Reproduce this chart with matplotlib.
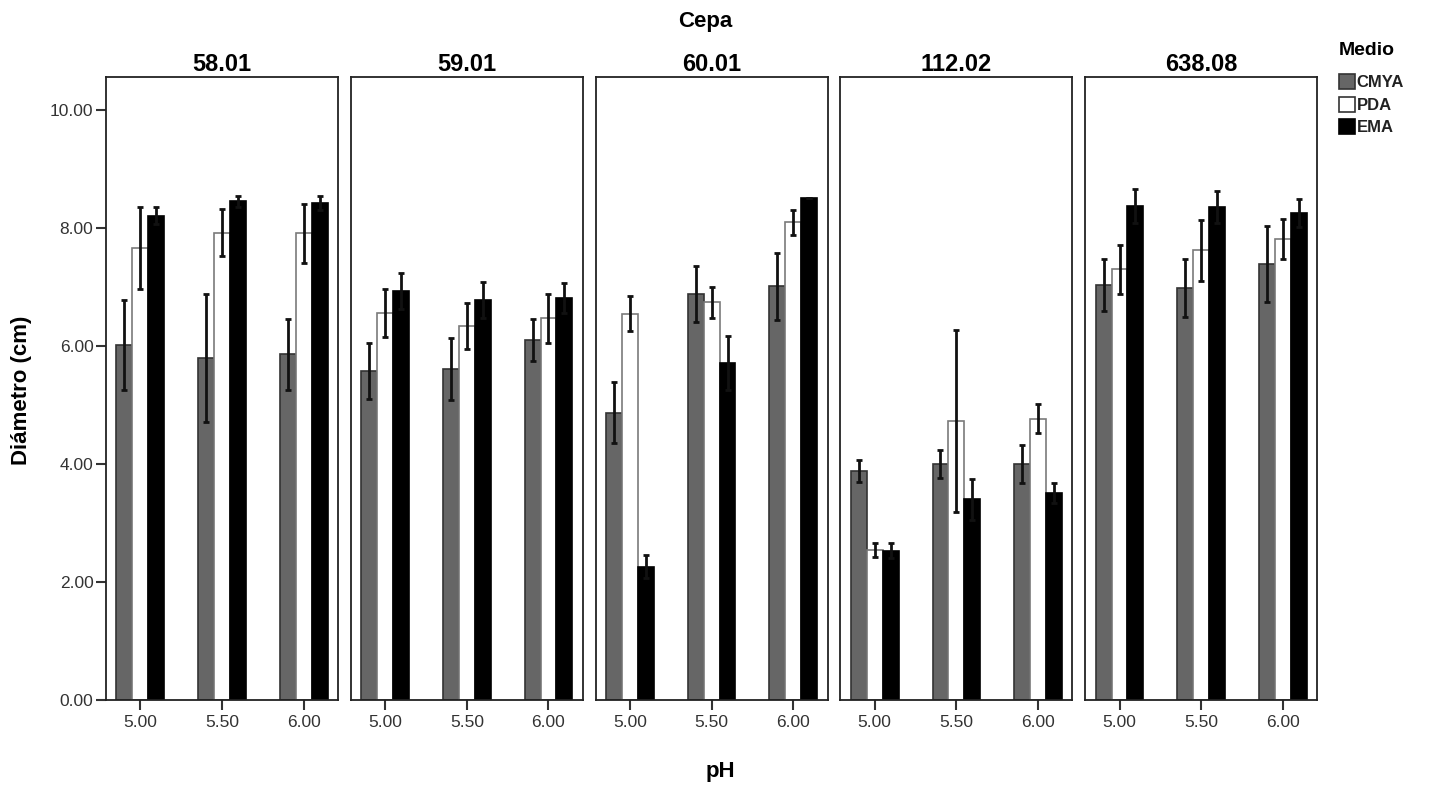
import matplotlib
matplotlib.use("Agg")
import matplotlib.pyplot as plt
from matplotlib.patches import Patch
import numpy as np

plt.rcParams['font.family'] = ['Liberation Sans', 'DejaVu Sans']

cepas = ["58.01", "59.01", "60.01", "112.02", "638.08"]
ph_labels = ["5.00", "5.50", "6.00"]
medios = ["CMYA", "PDA", "EMA"]

# means per cepa: rows = pH (5.00, 5.50, 6.00)
cmya_mean = [[6.02, 5.80, 5.86], [5.58, 5.61, 6.10], [4.87, 6.88, 7.01], [3.88, 4.00, 4.00], [7.03, 6.99, 7.39]]
pda_mean = [[7.66, 7.92, 7.91], [6.56, 6.34, 6.47], [6.55, 6.74, 8.10], [2.54, 4.73, 4.77], [7.30, 7.62, 7.81]]
ema_mean = [[8.21, 8.45, 8.43], [6.93, 6.78, 6.81], [2.26, 5.71, 8.51], [2.53, 3.40, 3.51], [8.38, 8.36, 8.25]]

cmya_err = [[0.76, 1.08, 0.60], [0.47, 0.52, 0.35], [0.52, 0.48, 0.57], [0.18, 0.24, 0.33], [0.44, 0.49, 0.65]]
pda_err = [[0.70, 0.40, 0.50], [0.40, 0.39, 0.42], [0.30, 0.26, 0.21], [0.12, 1.55, 0.25], [0.42, 0.51, 0.34]]
ema_err = [[0.15, 0.09, 0.12], [0.30, 0.30, 0.25], [0.20, 0.46, 0.00], [0.13, 0.35, 0.17], [0.29, 0.27, 0.24]]

W, H = 1434, 786
fig = plt.figure(figsize=(W / 100, H / 100), dpi=100)

face = ["#666666", "#ffffff", "#000000"]
edge = ["#333333", "#7a7a7a", "#000000"]
means = [cmya_mean, pda_mean, ema_mean]
errs = [cmya_err, pda_err, ema_err]

left0, step, width = 106, 244.8, 232
top, bottom = 77, 700
bw = 0.195
x = np.arange(len(ph_labels))

for i, cepa in enumerate(cepas):
    ax = fig.add_axes([(left0 + i * step) / W, (H - bottom) / H, width / W, (bottom - top) / H])
    for j in range(3):
        xs = x + (j - 1) * bw
        ax.bar(xs, means[j][i], width=bw, color=face[j], edgecolor=edge[j], linewidth=1.2, zorder=2)
        ax.errorbar(xs, means[j][i], yerr=errs[j][i], fmt='none', ecolor='#111111',
                    elinewidth=2.0, capsize=2, capthick=2, zorder=3)
    ax.set_xlim(-0.42, 2.42)
    ax.set_ylim(0, 10.56)
    ax.set_xticks(x)
    ax.set_xticklabels(ph_labels, fontsize=12.5, color='#333333')
    ax.tick_params(axis='x', length=7, width=1.5, direction='out', pad=4, colors='#333333')
    ax.tick_params(axis='x', labelcolor='#333333')
    if i == 0:
        ax.set_yticks([0, 2, 4, 6, 8, 10])
        ax.set_yticklabels(["0.00", "2.00", "4.00", "6.00", "8.00", "10.00"], fontsize=12.5, color='#333333')
        ax.tick_params(axis='y', length=7, width=1.5, direction='out', pad=2, colors='#333333')
        ax.tick_params(axis='y', labelcolor='#333333')
    else:
        ax.set_yticks([])
    for s in ax.spines.values():
        s.set_color('#222222')
        s.set_linewidth(1.3)
    ax.set_title(cepa, fontsize=17, fontweight='bold', pad=4)

fig.text(705 / W, 1 - 21 / H, "Cepa", fontsize=16, fontweight='bold', ha='center', va='center')
fig.text(720 / W, 1 - 772 / H, "pH", fontsize=16, fontweight='bold', ha='center', va='center')
fig.text(22 / W, 1 - 390 / H, "Diámetro (cm)", fontsize=16, fontweight='bold', rotation=90,
         ha='center', va='center')

handles = [Patch(facecolor=face[j], edgecolor=edge[j] if j != 1 else '#333333', linewidth=1.2) for j in range(3)]
leg = fig.legend(handles, medios, loc='upper left', bbox_to_anchor=(1339 / W, 1 - 42 / H),
                 frameon=False, title="Medio", alignment='left',
                 title_fontproperties={'weight': 'bold', 'size': 14},
                 prop={'weight': 'bold', 'size': 12},
                 handlelength=0.95, handleheight=1.0, handletextpad=0.12, labelspacing=0.38,
                 borderaxespad=0, borderpad=0)
leg._legend_box.sep = 11
for t in leg.get_texts():
    t.set_color('#222222')

fig.savefig("out.png", dpi=100, facecolor='white')
